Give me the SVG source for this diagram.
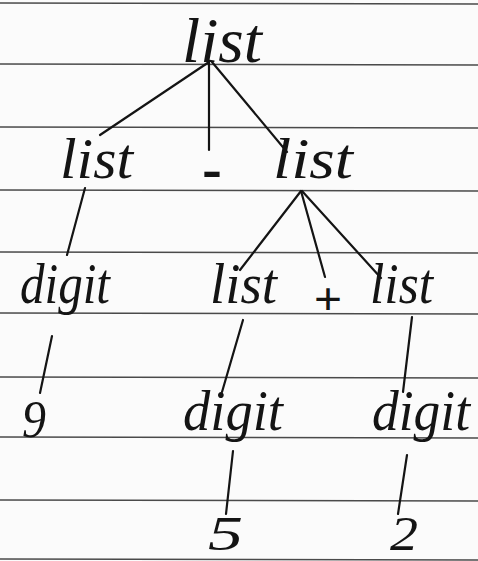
<svg xmlns="http://www.w3.org/2000/svg" width="478" height="561" viewBox="0 0 478 561">
  <style>
    .rule { stroke: #4a4a4a; stroke-width: 1.6; fill: none; }
    .edge { stroke: #141414; stroke-width: 2.2; stroke-linecap: round; fill: none; }
    .lbl { font-family: "Liberation Serif", "DejaVu Serif", serif; font-style: italic; fill: #141414; font-size: 58px; }
    .num { font-family: "Liberation Serif", "DejaVu Serif", serif; font-style: italic; fill: #141414; font-size: 48px; }
    .sym { font-family: "Liberation Sans", "DejaVu Sans", sans-serif; fill: #141414; font-size: 44px; }
  </style>

  <!-- ruled notebook paper -->
  <rect width="478" height="561" fill="#fbfbfb"/>
  <g id="rules">
    <path class="rule" d="M0 3 L478 4"/>
    <path class="rule" d="M0 64 L478 65"/>
    <path class="rule" d="M0 127 L478 128"/>
    <path class="rule" d="M0 190 L478 191"/>
    <path class="rule" d="M0 252 L478 253"/>
    <path class="rule" d="M0 313 L478 314"/>
    <path class="rule" d="M0 377 L478 378"/>
    <path class="rule" d="M0 437 L478 438"/>
    <path class="rule" d="M0 500 L478 501"/>
    <path class="rule" d="M0 559 L478 560"/>
  </g>

  <!-- tree edges -->
  <g id="connectors">
    <path class="edge" d="M209 62 L100 135"/>
    <path class="edge" d="M209 62 L209 150"/>
    <path class="edge" d="M212 62 L287 152"/>
    <path class="edge" d="M85 188 L67 255"/>
    <path class="edge" d="M301 191 L240 270"/>
    <path class="edge" d="M301 191 L325 277"/>
    <path class="edge" d="M302 191 L381 278"/>
    <path class="edge" d="M52 336 L40 393"/>
    <path class="edge" d="M243 320 L222 392"/>
    <path class="edge" d="M233 451 L226 514"/>
    <path class="edge" d="M412 317 L403 392"/>
    <path class="edge" d="M407 455 L398 514"/>
  </g>

  <g id="n-list-root"><text class="lbl" x="182" y="62" style="font-size:64px" textLength="80" lengthAdjust="spacingAndGlyphs">list</text></g>
  <g id="n-list-left"><text class="lbl" x="60" y="178" textLength="73" lengthAdjust="spacingAndGlyphs">list</text></g>
  <g id="n-minus"><text class="sym" x="202" y="186" font-weight="bold" textLength="20" lengthAdjust="spacingAndGlyphs">-</text></g>
  <g id="n-list-right"><text class="lbl" x="273" y="178" textLength="80" lengthAdjust="spacingAndGlyphs">list</text></g>
  <g id="n-digit-9"><text class="lbl" x="20" y="303" textLength="90" lengthAdjust="spacingAndGlyphs">digit</text></g>
  <g id="n-list-5"><text class="lbl" x="210" y="303" textLength="67" lengthAdjust="spacingAndGlyphs">list</text></g>
  <g id="n-plus"><text class="sym" x="314" y="314" textLength="28" lengthAdjust="spacingAndGlyphs">+</text></g>
  <g id="n-list-2"><text class="lbl" x="370" y="303" textLength="63" lengthAdjust="spacingAndGlyphs">list</text></g>
  <g id="n-9"><text class="num" x="22" y="437" style="font-size:52px" textLength="24" lengthAdjust="spacingAndGlyphs">9</text></g>
  <g id="n-digit-5"><text class="lbl" x="183" y="430" textLength="100" lengthAdjust="spacingAndGlyphs">digit</text></g>
  <g id="n-digit-2"><text class="lbl" x="372" y="430" textLength="98" lengthAdjust="spacingAndGlyphs">digit</text></g>
  <g id="n-5"><text class="num" x="208" y="550" textLength="35" lengthAdjust="spacingAndGlyphs">5</text></g>
  <g id="n-2"><text class="num" x="390" y="550" textLength="28" lengthAdjust="spacingAndGlyphs">2</text></g>
</svg>
